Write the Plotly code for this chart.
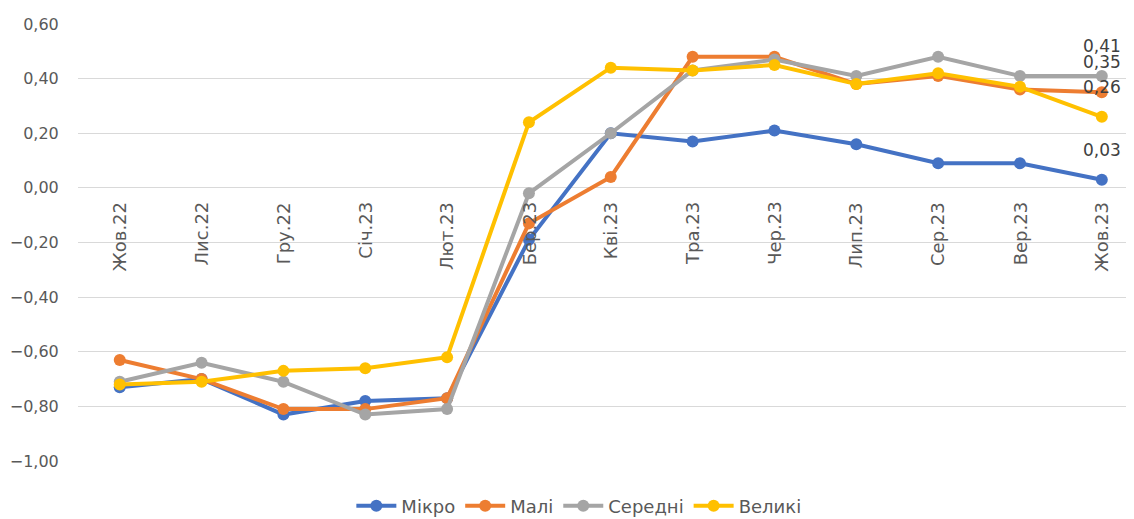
import plotly.graph_objects as go

categories = ["Жов.22", "Лис.22", "Гру.22", "Січ.23", "Лют.23", "Бер.23", "Кві.23",
              "Тра.23", "Чер.23", "Лип.23", "Сер.23", "Вер.23", "Жов.23"]
micro = [-0.73, -0.70, -0.83, -0.78, -0.77, -0.19, 0.20, 0.17, 0.21, 0.16, 0.09, 0.09, 0.03]
small = [-0.63, -0.70, -0.81, -0.81, -0.77, -0.13, 0.04, 0.48, 0.48, 0.38, 0.41, 0.36, 0.35]
medium = [-0.71, -0.64, -0.71, -0.83, -0.81, -0.02, 0.20, 0.43, 0.47, 0.41, 0.48, 0.41, 0.41]
large = [-0.72, -0.71, -0.67, -0.66, -0.62, 0.24, 0.44, 0.43, 0.45, 0.38, 0.42, 0.37, 0.26]

series_names = ["Мікро", "Малі", "Середні", "Великі"]
series_values = [micro, small, medium, large]
colors = ["#4472C4", "#ED7D31", "#A5A5A5", "#FFC000"]
y_ticks = [0.6, 0.4, 0.2, 0.0, -0.2, -0.4, -0.6, -0.8, -1.0]

FONT = "DejaVu Sans, Liberation Sans, Arial"

idx = list(range(len(categories)))
fig = go.Figure()
for name, vals, col in zip(series_names, series_values, colors):
    fig.add_trace(go.Scatter(
        x=idx, y=vals, name=name, mode="lines+markers",
        line=dict(color=col, width=4),
        marker=dict(color=col, size=12),
    ))

# data labels on the last point
for vals in series_values:
    v = vals[-1]
    fig.add_annotation(x=idx[-1], y=v, text=f"{v:.2f}".replace(".", ","),
                       showarrow=False, yshift=30, xref="x", yref="y",
                       font=dict(family=FONT, size=17, color="#404040"))

# category labels, rotated, just below the zero line
for i, c in zip(idx, categories):
    fig.add_annotation(x=i, y=0, text=c, textangle=-90, showarrow=False,
                       xref="x", yref="y", yanchor="top", yshift=-12,
                       font=dict(family=FONT, size=18, color="#595959"))

fig.update_layout(
    width=1126, height=511,
    autosize=False,
    margin=dict(l=70, r=6, t=16, b=58, autoexpand=False),
    paper_bgcolor="white", plot_bgcolor="white",
    separators=", ",
    showlegend=True,
    legend=dict(orientation="h", x=0.477, xanchor="center",
                y=-0.103, yanchor="middle", itemwidth=40,
                font=dict(family=FONT, size=18, color="#595959")),
    font=dict(family=FONT, color="#595959"),
)
fig.update_xaxes(range=[-0.51, 12.32], showgrid=False, showticklabels=False,
                 zeroline=False, showline=False)
fig.update_yaxes(range=[-1.0, 0.6], tickvals=y_ticks, tickformat=".2f",
                 showgrid=True, gridcolor="#D9D9D9", gridwidth=1,
                 zeroline=True, zerolinecolor="#D9D9D9", zerolinewidth=1,
                 showline=False, ticks="outside", ticklen=15,
                 tickcolor="rgba(0,0,0,0)",
                 tickfont=dict(family=FONT, size=16, color="#595959"))

fig.write_html("out.html")
